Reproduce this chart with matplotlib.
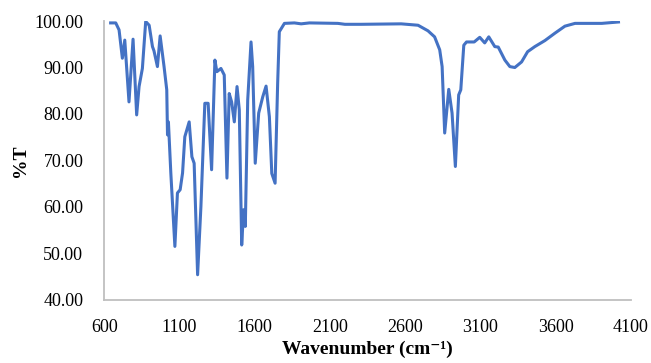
import matplotlib.pyplot as plt
from matplotlib.ticker import FixedLocator, FormatStrFormatter

# FTIR spectrum
wavenumber = [643, 677, 699, 721, 737, 765, 792, 816, 832, 854, 876, 899, 921, 931, 954,
              972, 998, 1016, 1021, 1027, 1043, 1070, 1087, 1105, 1121, 1136, 1165, 1183,
              1198, 1221, 1243, 1269, 1291, 1314, 1336, 1349, 1376, 1398, 1416, 1431, 1447,
              1465, 1483, 1498, 1514, 1527, 1538, 1554, 1576, 1587, 1604, 1627, 1654, 1676,
              1698, 1714, 1736, 1753, 1764, 1798, 1864, 1909, 1964, 2153, 2200, 2308, 2574,
              2686, 2752, 2796, 2830, 2846, 2863, 2890, 2912, 2934, 2956, 2970, 2990, 3008,
              3059, 3096, 3129, 3156, 3196, 3219, 3263, 3296, 3329, 3374, 3414, 3462, 3529,
              3596, 3662, 3729, 3907, 4018]
transmittance = [99.6, 99.6, 98.1, 92.0, 95.9, 82.6, 96.1, 79.8, 85.9, 89.8, 99.9, 99.1, 94.5,
                 93.6, 90.2, 96.8, 90.2, 85.2, 75.5, 78.3, 67.3, 51.5, 63.0, 63.7, 67.3, 75.1,
                 78.3, 70.8, 69.4, 45.4, 60.1, 82.3, 82.3, 68.0, 91.6, 89.1, 89.8, 88.4, 66.2,
                 84.4, 82.6, 78.3, 85.9, 80.9, 51.8, 59.4, 55.8, 83.0, 95.5, 90.2, 69.4, 80.2,
                 83.7, 86.0, 79.4, 67.2, 65.1, 86.6, 97.7, 99.5, 99.6, 99.4, 99.6, 99.5, 99.3,
                 99.3, 99.4, 99.1, 97.9, 96.6, 93.8, 90.2, 75.9, 85.3, 80.2, 68.7, 84.1, 85.2,
                 94.8, 95.5, 95.5, 96.5, 95.3, 96.6, 94.5, 94.4, 91.6, 90.2, 90.0, 91.2, 93.4,
                 94.5, 95.8, 97.4, 98.9, 99.5, 99.5, 99.8]

x_ticks = [600, 1100, 1600, 2100, 2600, 3100, 3600, 4100]
y_ticks = [40, 50, 60, 70, 80, 90, 100]

plt.rcParams['font.family'] = ['Liberation Serif', 'DejaVu Serif']

fig = plt.figure(figsize=(6.51, 3.63), dpi=100)
ax = fig.add_axes([0.16, 0.174, 0.809, 0.768])

ax.plot(wavenumber, transmittance, color='#4472C4', lw=2.2, solid_joinstyle='round')

ax.set_xlim(600, 4100)
ax.set_ylim(40, 100)
ax.xaxis.set_major_locator(FixedLocator(x_ticks))
ax.yaxis.set_major_locator(FixedLocator(y_ticks))
ax.yaxis.set_major_formatter(FormatStrFormatter('%.2f'))
ax.tick_params(length=0, labelsize=13, colors='#000000')
ax.tick_params(axis='x', pad=14)
ax.tick_params(axis='y', pad=15)

for side in ['top', 'right']:
    ax.spines[side].set_visible(False)
for side in ['left', 'bottom']:
    ax.spines[side].set_color('#BFBFBF')
    ax.spines[side].set_linewidth(1.3)

ax.set_xlabel('Wavenumber (cm\u207b\u00b9)', fontsize=14, fontweight='bold', labelpad=3)
ax.set_ylabel('%T', fontsize=14, fontweight='bold', labelpad=4)

fig.savefig('out.png', dpi=100)
